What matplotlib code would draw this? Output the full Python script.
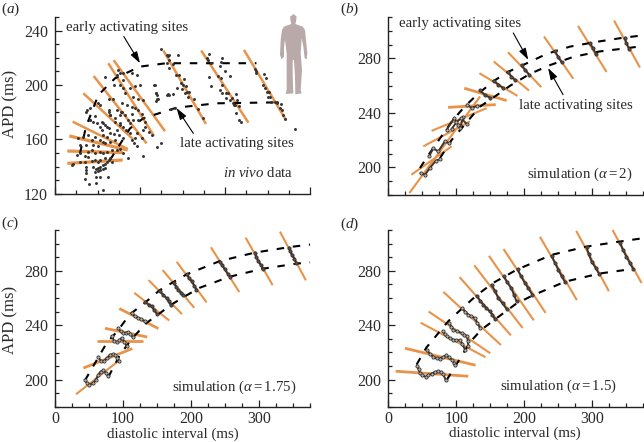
import matplotlib
matplotlib.use("Agg")
import matplotlib.pyplot as plt
from matplotlib.patches import Polygon
from matplotlib.ticker import MultipleLocator
from matplotlib.transforms import Affine2D

W, H = 644, 442
plt.rcParams['font.family'] = ['Liberation Serif', 'DejaVu Serif']
plt.rcParams['mathtext.fontset'] = 'custom'
plt.rcParams['mathtext.rm'] = 'Liberation Serif'
plt.rcParams['mathtext.it'] = 'Liberation Serif:italic'
plt.rcParams['mathtext.bf'] = 'Liberation Serif:bold'

ORANGE = '#e8934a'
TEXT = '#2b2b2b'

# panel a ---------------------------------------------------------------
a_orange = [((14.5, 79.6), (142.3, 144.8)), ((14.5, 79.6), (151.4, 150.2)),
            ((16.9, 85.5), (162.5, 152.1)), ((20.8, 85.5), (173, 152.9)),
            ((33.3, 92), (193.9, 160)), ((45.5, 107.8), (206.6, 157)),
            ((62.7, 116.5), (216, 162.5)), ((69, 129.4), (218.2, 166)),
            ((127.5, 177.6), (225.3, 171.3)), ((172, 227.5), (225.3, 172.3)),
            ((222.3, 271.8), (225.8, 174.2))]
a_early_x = [29.4, 36.5, 51, 70.6, 100, 131, 178, 237]
a_early_y = [149.7, 169.3, 192.6, 204.9, 213.5, 216, 216, 216]
a_late_x = [64.7, 88.2, 104, 143, 190, 261]
a_late_y = [144.8, 168, 175.5, 183.3, 186.5, 187.2]
a_pts_x = [40, 48, 57, 35, 48, 53, 62, 36, 36, 36, 47, 50, 53, 56, 59, 45, 48, 51, 53, 56, 59, 61, 64, 67, 65, 59, 53, 51, 47, 43,
           39, 35, 29.5, 25.5, 21.6, 19.6, 29.5, 35, 39, 43, 47, 53, 57, 61, 67, 73, 76, 80, 86, 104, 120, 125, 97, 93, 90, 94, 88,
           27.5, 33, 39, 43, 47, 53, 57, 59, 65, 71, 29.5, 37, 45, 51, 49, 53, 55, 59, 63, 65, 69, 73, 75, 80, 76, 80, 84, 86, 65, 71,
           76, 78, 63, 90, 98, 106, 110, 114, 102, 104, 96, 55, 45, 41, 57, 61,
           59, 69, 72.5, 76.5, 80, 74.5, 96, 80, 90, 76.5, 80, 94, 100, 88, 82.3, 92, 98, 104, 118, 119, 120.4, 133, 63, 68.6, 78.4,
           84.3, 90, 94, 98, 102, 104, 106, 51, 53, 38, 41, 37, 47, 41, 63, 65, 72.5, 78.4, 82.3, 57, 61, 70.5, 76.5, 88, 92,
           124.6, 131.3, 133.3, 134.4, 145, 132, 134.4, 134, 139, 142.3, 146, 152, 148, 151, 153.6, 149, 155, 158, 153, 157, 163.4,
           168.5, 173.6, 144, 117, 118.4, 119.5, 121.5, 118.8, 132, 134, 138.4, 136, 141,
           181, 178.3, 180.3, 184, 196, 195, 194, 200, 206, 191.3, 195, 181.5, 197, 183.4, 194, 197, 201, 204, 213, 201, 208, 206,
           209, 211.7, 214.4, 216.8, 213, 216.8, 219, 210,
           235, 236.4, 237, 246, 247.7, 245, 247, 249, 252, 250, 253, 253.6, 258.7, 260.7, 266, 264.6, 267.3, 267.7, 270.5, 282, 260.7]
a_pts_y = [127, 128, 123, 131, 132, 132, 132, 135, 137.5, 140, 136, 137, 137.5, 138, 139, 140, 138, 139, 140, 141, 142, 143.5, 145,
           143.5, 146, 146, 145, 143.5, 145, 144, 147, 148, 149.7, 148.5, 142, 141, 143.5, 143.5, 151, 152, 150, 151, 150, 151, 152,
           152, 153, 150, 146, 148, 154, 157.5, 155, 157, 159.5, 161, 164.5, 161, 162, 163, 159.5, 162, 159.5, 158, 157, 158, 159.5,
           156, 156, 156, 155, 172, 169, 167, 170.5, 168, 164.5, 164, 167, 163, 161, 172, 169, 167, 174, 178, 175.5, 178, 180, 180,
           178.5, 174, 169, 165.6, 163, 161, 167, 164.5, 173, 173, 174, 163, 162,
           206, 200, 207, 208.7, 208.7, 211, 207, 204, 209, 200, 198, 199, 200, 197.6, 194, 191.5, 190, 189, 200, 194, 189.5, 193,
           190, 190, 186.6, 185, 184, 183, 181.7, 179, 175.5, 173, 186.6, 185, 181.7, 183, 180.4, 177, 174, 181.7, 178, 181.7, 180.4,
           178, 172, 169.4, 173, 170.6, 172, 174.3,
           226.6, 222, 221, 222, 222, 216.5, 218.5, 212.3, 215.5, 207.4, 207.4, 204.2, 201.3, 200, 199.3, 197, 195, 195, 194, 191.5,
           190, 182, 176, 197.6, 200, 194.4, 192.7, 189.5, 188.5, 192.7, 192.7, 193.2, 182, 183,
           222.6, 219.7, 218, 216, 220, 217, 214, 210, 206.7, 206.7, 205, 205.7, 200, 199.3, 196, 194.4, 194.4, 194.4, 193, 190.2,
           190.2, 189, 186.5, 185.3, 189, 184.6, 179.2, 174.3, 173, 185.3,
           212, 210, 208.7, 208, 205, 200, 198, 195, 194.7, 191.5, 191, 187.8, 187.8, 186.6, 185.8, 183, 181.6, 178, 174.8, 167.4, 187.8]

# panel b ---------------------------------------------------------------
b_orange = [((31, 135), (181.2, 252)), ((33.8, 93), (194.6, 215.4)), ((51.5, 120), (215.4, 233.7)),
            ((63.7, 144.6), (226.8, 243.4)), ((88, 158), (244, 246)), ((111.7, 174), (258, 249)),
            ((134, 190), (269, 252.4)), ((155, 207), (277.6, 256.3)), ((176, 225), (284.4, 258.8)),
            ((229, 272), (295.9, 265)), ((279, 321), (303.7, 269.9)), ((332, 370), (307.6, 273.2))]
b_early_x = [46.5, 61, 78, 95.5, 112.7, 130, 154, 176, 198, 233, 267, 306, 345, 375]
b_early_y = [199.5, 210.5, 222.7, 235, 244.8, 253, 263, 270, 275, 283.2, 288.5, 292, 295, 296.8]
b_late_x = [76, 93, 108, 135, 154, 179, 208, 238, 272, 311, 350, 375]
b_late_y = [206.8, 220, 228.8, 244.6, 251, 259.8, 268.5, 275, 281, 285, 287.3, 289]
b_chains = [((47.5, 54, 61, 70, 76), (195.9, 194.6, 199.5, 205, 206)),
            ((60, 66, 73.5, 83, 89.7), (208, 214, 211.7, 219, 217.8)),
            ((85.8, 96.5, 103, 106, 110), (227.6, 236, 231, 229, 237)),
            ((93, 100, 107, 115), (228, 233, 236, 232)),
            ((116, 122.5, 130), (246, 243.5, 245)), ((134.8, 142, 150), (256.5, 253, 251)),
            ((155, 162, 169), (263.6, 260.6, 258)), ((176, 181, 186), (270, 266.6, 264)),
            ((196, 201, 207), (275, 271.6, 268)), ((245, 250, 255), (285, 281, 277)),
            ((296.5, 301, 305), (291, 287.5, 283.4)), ((348, 350, 354), (295, 291, 286.8))]

# panel c ---------------------------------------------------------------
c_orange = [((31, 95.6), (189.4, 214.7)), ((41.7, 113.7), (208.6, 222.9)), ((61.7, 128.9), (228.7, 228.7)),
            ((73.5, 135.7), (237.8, 231.4)), ((94.6, 152), (252.3, 237.6)), ((116.6, 168), (263.9, 243.5)),
            ((137.7, 186.7), (273.2, 248.2)), ((158.3, 204.8), (280.6, 252.8)), ((178.9, 223), (286.7, 256.8)),
            ((229.3, 271), (297.3, 264.4)), ((280.3, 320), (304.4, 269.5)), ((330.8, 369), (308.8, 273))]
c_early_x = [44, 76, 91.6, 110, 132, 154, 176.4, 193.5, 242.5, 294, 345.5, 375]
c_early_y = [199.5, 227, 235.6, 248, 256.5, 265.8, 272.5, 277.4, 287.2, 293.4, 297.5, 299.3]
c_late_x = [78.4, 95.6, 114, 134.8, 154.4, 171.5, 193.5, 213, 257, 306, 355, 375]
c_late_y = [202, 218.4, 230.7, 241.8, 249, 255.3, 262, 267.6, 275.7, 281.6, 285.3, 286.2]
c_chains = [((44, 47, 50.5, 56.4, 60, 63.7, 67, 71, 75, 78.4), (200, 197.5, 196.3, 197.5, 200, 203.7, 206, 206.9, 205, 202.5)),
            ((63.7, 67, 72, 76, 80.9, 85, 88, 91, 94.6), (216.7, 214, 213.5, 216, 218.4, 218.8, 218.4, 216, 213.5)),
            ((83.3, 87, 90.6, 94, 98, 102, 105.4), (232, 228.5, 227.5, 229, 230.7, 228, 224.6)),
            ((93, 96.5, 100.5, 104, 107.8, 111, 114), (238, 235.5, 234, 234.5, 235, 233.5, 231.5)),
            ((112.7, 117, 122.5, 127, 132.3), (249, 247, 245.5, 244.5, 243)),
            ((133, 138, 142, 146, 150.4), (257, 255, 254, 251, 248)),
            ((154, 159, 164, 167, 170), (265, 262.5, 260, 257.5, 255)),
            ((175, 178, 181, 185, 188.6), (271, 268.5, 266, 264, 262)),
            ((193.6, 197, 201, 205, 208), (277.4, 275, 272.5, 269, 266)),
            ((242.6, 246, 250, 254, 257), (286.5, 284, 281, 278, 275.7)),
            ((294, 296, 299, 303, 306), (293.4, 290, 287, 284, 281.6)),
            ((344.5, 346, 348, 352, 355), (297, 294.5, 292, 289, 285.5))]

# panel d ---------------------------------------------------------------
d_orange = [((10.8, 117.6), (206.1, 202.4)), ((24.5, 128.4), (223, 210.5)), ((47.5, 143), (241.8, 216.4)),
            ((59.3, 150), (250, 219.3)), ((80.9, 165.6), (264.5, 225.4)), ((104.9, 180.3), (275.3, 232.5)),
            ((126.4, 197.5), (284, 237.9)), ((148, 214), (291, 243.5)), ((169.5, 231.3), (296, 249)),
            ((223, 277.3), (305, 258.4)), ((276.4, 324.4), (309.3, 265)), ((329.8, 372.4), (310, 271))]
d_early_x = [41.6, 56, 88, 110, 130, 154, 188.6, 240, 291.5, 340.5, 375]
d_early_y = [211, 223.5, 242.8, 253, 262, 271, 280.7, 291.7, 297.8, 301.5, 304]
d_late_x = [85.7, 103, 120, 137, 159, 188.6, 213, 260, 311, 360]
d_late_y = [199.5, 213.4, 227.4, 236.7, 245, 256, 262, 272, 278, 281.4]
d_chains = [((42.6, 44.5, 46.6, 50, 55.4, 59, 63.7, 68, 73.5, 77, 80.9, 84.8), (210.3, 207.5, 204.9, 203, 202, 203, 204.4, 205.5, 206.1, 205.5, 203.7, 199.3)),
            ((57.3, 61, 66.2, 71, 76, 80, 84.8, 89, 93, 96, 98), (221.5, 219, 216.6, 215.5, 215.4, 216.5, 217.8, 216.5, 214.7, 212.5, 210.5)),
            ((80, 83, 85.8, 90, 95.6, 100, 105.4, 109, 112.7), (235.5, 233.5, 231.8, 230.5, 229.3, 229, 228.9, 226, 222)),
            ((89.7, 92.5, 95.6, 101, 107.8, 112, 116, 117, 117.6), (241.6, 239, 236.7, 235.5, 234.2, 233, 231.8, 228, 225)),
            ((108.8, 113, 117.6, 122, 127.4, 131, 134.8), (252.6, 250, 247.7, 246.5, 245.2, 241.5, 237.9)),
            ((130, 135, 139.7, 144, 149.5, 153, 156.8), (261.6, 258, 255, 252.5, 250.1, 247.5, 244.5)),
            ((152, 157, 161.7, 168, 174), (269.7, 265, 259.9, 256, 251.8)),
            ((170, 175, 181, 185, 188.6), (275.8, 271.5, 267.2, 262, 257.5)),
            ((190, 195, 201, 206, 212), (281.2, 276, 270.9, 267, 262.3)),
            ((240, 245, 250, 255, 260), (291, 286, 280.7, 276, 271.6)),
            ((291.6, 295, 299, 305, 310), (297.3, 292, 286.8, 282, 277.8)),
            ((340.6, 345, 350, 355, 360), (300.7, 295.5, 290.5, 286, 281.4))]

body_x = [71, 80, 78, 76, 98, 105, 108, 112, 110, 104, 100, 95, 92, 96, 92, 95, 76, 75, 72, 68, 68, 70, 47, 50, 50, 50, 45, 42, 42, 35, 30, 32, 36, 42, 64, 62, 60]
body_y = [12, 20, 34, 42, 50, 60, 90, 130, 148, 145, 110, 85, 130, 180, 240, 250, 253, 200, 150, 150, 200, 250, 252, 240, 180, 130, 90, 110, 140, 148, 135, 90, 60, 50, 42, 34, 20]


fig = plt.figure(figsize=(W / 100, H / 100), dpi=100, facecolor='white')


def make_axes(l, r, top, bottom, xmax, ymin, ymax, labels):
    ax = fig.add_axes([l / W, 1 - bottom / H, (r - l) / W, (bottom - top) / H])
    ax.set_xlim(0, xmax)
    ax.set_ylim(ymin, ymax)
    for s in ('top', 'right'):
        ax.spines[s].set_visible(False)
    for s in ('left', 'bottom'):
        ax.spines[s].set_linewidth(1.0)
        ax.spines[s].set_color('#222222')
    ax.xaxis.set_major_locator(MultipleLocator(100))
    ax.xaxis.set_minor_locator(MultipleLocator(25))
    ax.yaxis.set_major_locator(MultipleLocator(40))
    ax.yaxis.set_minor_locator(MultipleLocator(10))
    ax.tick_params(which='major', direction='in', length=5, width=0.9, color='#222222',
                   labelsize=11.5, labelcolor=TEXT, pad=5)
    ax.tick_params(which='minor', direction='in', length=3, width=0.9, color='#222222')
    ax.tick_params(axis='x', labelbottom=labels, pad=3)
    return ax


def pix_text(s, px, py, ha='center'):
    fig.text(px / W, 1 - py / H, s, ha=ha, va='center', fontsize=10.7, color=TEXT)


def draw_orange(ax, lines, lw=1.5):
    for xs, ys in lines:
        flat = abs(ys[0] - ys[1]) < 16
        ax.plot(xs, ys, color=ORANGE, lw=lw + (0.5 if flat else 0), solid_capstyle='butt', zorder=2, clip_on=False)


def draw_dash(ax, x, y):
    ax.plot(x, y, color='black', lw=1.5, dashes=(3.6, 4.2), zorder=3, clip_on=False)


def draw_chains(ax, chains):
    for i, (xs, ys) in enumerate(chains):
        ax.plot(xs, ys, color='#40342c', lw=1.4, marker='o', ms=2.3,
                mfc='#b9b2ab' if i < 5 else '#5c5048',
                mec='#33302e', mew=0.6, zorder=4)


def arrow(ax, tail, head):
    ax.annotate('', xy=head, xytext=tail, zorder=6,
                arrowprops=dict(arrowstyle='-|>,head_width=0.22,head_length=0.7', color='black', lw=0.8,
                                shrinkA=0, shrinkB=0))


def panel_label(letter, px, py):
    fig.text(px / W, 1 - py / H, '($\\mathit{%s}$)' % letter, ha='left', va='center', fontsize=11, color=TEXT)


# (a)
axa = make_axes(55, 310, 17, 193.7, 300, 120, 250, False)
draw_orange(axa, a_orange, 1.8)
draw_dash(axa, a_early_x, a_early_y)
draw_dash(axa, a_late_x, a_late_y)
axa.scatter(a_pts_x, a_pts_y, s=4.5, color='#333333', linewidths=0, zorder=5, clip_on=False)
arrow(axa, (81, 235.6), (100, 216))
arrow(axa, (162.7, 164.4), (143, 183))
axa.set_ylabel('APD (ms)', fontsize=12, color=TEXT, va='center')
axa.yaxis.set_label_coords(-0.176, 0.507)
pix_text('early activating sites', 127.5, 27)
pix_text('late activating sites', 236.5, 143)
pix_text('$\\mathit{in\\ vivo}$ data', 293, 173, ha='right')

# (b)
axb = make_axes(388.3, 643.3, 17.3, 194.7, 375, 180, 310, False)
draw_orange(axb, b_orange)
draw_dash(axb, b_early_x, b_early_y)
draw_dash(axb, b_late_x, b_late_y)
draw_chains(axb, b_chains)
arrow(axb, (183.8, 298.5), (205.8, 278.8))
arrow(axb, (257, 253.3), (235, 272.8))
pix_text('early activating sites', 460.5, 23)
pix_text('late activating sites', 576, 106)
pix_text('simulation ($\\alpha=2$)', 633, 174, ha='right')

# (c)
axc = make_axes(55, 310, 230, 407, 375, 180, 310, True)
draw_orange(axc, c_orange)
draw_dash(axc, c_early_x, c_early_y)
draw_dash(axc, c_late_x, c_late_y)
draw_chains(axc, c_chains)
axc.set_ylabel('APD (ms)', fontsize=12, color=TEXT, va='center')
axc.yaxis.set_label_coords(-0.176, 0.49)
axc.set_xlabel('diastolic interval (ms)', fontsize=10.8, color=TEXT, va='center')
axc.xaxis.set_label_coords(0.463, -0.153)
pix_text('simulation ($\\alpha=1.75$)', 296, 387, ha='right')

# (d)
axd = make_axes(388.3, 643.3, 230, 406.7, 375, 180, 310, True)
draw_orange(axd, d_orange)
draw_dash(axd, d_early_x, d_early_y)
draw_dash(axd, d_late_x, d_late_y)
draw_chains(axd, d_chains)
axd.set_xlabel('diastolic interval (ms)', fontsize=10.8, color=TEXT, va='center')
axd.xaxis.set_label_coords(0.498, -0.153)
pix_text('simulation ($\\alpha=1.5$)', 617, 386, ha='right')

panel_label('a', 1, 9)
panel_label('b', 340, 9)
panel_label('c', 1, 223)
panel_label('d', 340, 224)

# human figure, placed in pixel coordinates
to_px = Affine2D().scale(1 / 3, -1 / 3).translate(270, H - 10)
fig.add_artist(Polygon(list(zip(body_x, body_y)), closed=True, facecolor='#b9a9a9', edgecolor='none', transform=to_px))

fig.savefig('out.png', dpi=100)
